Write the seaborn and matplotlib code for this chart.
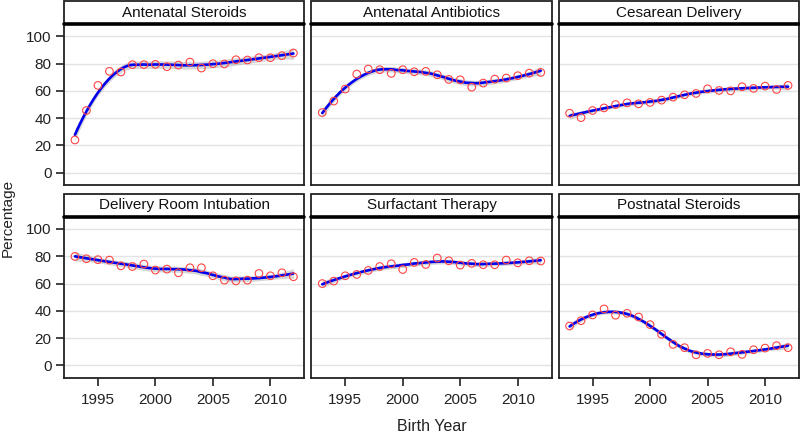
import numpy as np
import pandas as pd
import matplotlib
matplotlib.use("Agg")
import matplotlib.pyplot as plt
from matplotlib.patches import Rectangle
from matplotlib.lines import Line2D
import seaborn as sns

# ---- data ----
years = list(range(1993, 2013))
panels = ["Antenatal Steroids", "Antenatal Antibiotics", "Cesarean Delivery",
          "Delivery Room Intubation", "Surfactant Therapy", "Postnatal Steroids"]
antenatal_steroids = [24.0, 45.6, 64.0, 74.3, 73.8, 79.2, 79.2, 79.4, 77.7, 78.9,
                      81.1, 76.7, 79.9, 79.7, 82.8, 82.6, 84.3, 84.3, 85.8, 87.7]
antenatal_antibiotics = [44.1, 52.5, 61.3, 72.3, 76.0, 75.5, 72.8, 75.5, 74.0, 74.3,
                         71.8, 68.4, 68.1, 62.7, 65.7, 68.6, 69.4, 71.1, 73.0, 73.5]
cesarean_delivery = [43.6, 40.4, 45.6, 47.5, 50.0, 51.2, 50.5, 51.5, 53.2, 55.4,
                     57.1, 58.1, 61.5, 60.3, 60.0, 63.0, 61.8, 63.5, 61.0, 64.0]
dr_intubation = [79.9, 78.2, 77.5, 77.2, 73.0, 72.5, 74.3, 69.9, 70.6, 67.9,
                 71.6, 71.6, 65.7, 62.5, 62.0, 62.5, 67.4, 65.7, 67.9, 65.0]
surfactant = [60.0, 61.8, 65.7, 66.7, 69.6, 72.5, 74.5, 70.3, 75.5, 74.0,
              78.7, 76.7, 73.5, 74.8, 73.8, 73.8, 77.2, 75.2, 76.7, 76.5]
postnatal_steroids = [28.9, 32.8, 37.0, 41.4, 36.8, 38.2, 35.5, 29.9, 22.8, 15.4,
                      13.0, 7.8, 8.8, 7.8, 10.0, 8.1, 11.5, 12.7, 14.5, 13.0]
series = [antenatal_steroids, antenatal_antibiotics, cesarean_delivery,
          dr_intubation, surfactant, postnatal_steroids]
x_ticks = [1995, 2000, 2005, 2010]
y_ticks = [0, 20, 40, 60, 80, 100]

df = pd.DataFrame({
    "Birth Year": np.tile(years, len(panels)),
    "Percentage": np.concatenate(series),
    "Outcome": np.repeat(panels, len(years)),
})


def loess_matrix(x, x0s, span=0.6):
    x = np.asarray(x, float)
    n = len(x)
    q = int(np.floor(n * span))
    L = np.zeros((len(x0s), n))
    for i, x0 in enumerate(x0s):
        d = np.abs(x - x0)
        h = np.sort(d)[q - 1] * 1.0001
        w = np.clip(1 - (d / h) ** 3, 0, None) ** 3
        X = np.vstack([np.ones(n), x - x0, (x - x0) ** 2]).T
        W = np.diag(w)
        A = np.linalg.pinv(X.T @ W @ X) @ X.T @ W
        L[i] = A[0]
    return L


sns.set_style("ticks")
plt.rcParams["font.sans-serif"] = ["Liberation Sans", "DejaVu Sans"]
plt.rcParams["font.family"] = ["Liberation Sans", "DejaVu Sans"]

fig, axes = plt.subplots(2, 3, figsize=(8.0, 4.36), dpi=100, sharex=True, sharey=True)
fig.subplots_adjust(left=64 / 800, right=799 / 800, top=1 - 24 / 436,
                    bottom=1 - 377.7 / 436, wspace=0.029, hspace=0.197)

strip_h = 23.0 / 161.0
for k, (ax, name) in enumerate(zip(axes.flat, panels)):
    sub = df[df["Outcome"] == name]
    x = sub["Birth Year"].to_numpy(float)
    y = sub["Percentage"].to_numpy(float)
    xs = np.linspace(x.min(), x.max(), 80)
    Ls = loess_matrix(x, xs)
    Lx = loess_matrix(x, x)
    fit = Ls @ y
    resid = y - Lx @ y
    IL = np.eye(len(x)) - Lx
    delta1 = np.trace(IL.T @ IL)
    sigma = np.sqrt(np.sum(resid ** 2) / delta1)
    se = sigma * np.sqrt(np.sum(Ls ** 2, axis=1))
    ax.fill_between(xs, fit - 2.1 * se, fit + 2.1 * se, color="#999999", alpha=0.4,
                    linewidth=0, zorder=2)
    sns.lineplot(x=xs, y=fit, ax=ax, color="#0000EE", linewidth=1.9, zorder=3)
    sns.scatterplot(data=sub, x="Birth Year", y="Percentage", ax=ax, marker="o",
                    s=30, facecolor="none", edgecolor="#FF4545", linewidth=0.8, zorder=4)

    ax.set_xlim(1992.05, 2012.95)
    ax.set_ylim(-9, 109)
    ax.set_xticks(x_ticks)
    ax.set_yticks(y_ticks)
    ax.set_xlabel("")
    ax.set_ylabel("")
    ax.yaxis.grid(True, color="#e3e3e3", linewidth=1.0)
    ax.set_axisbelow(True)
    for sp in ax.spines.values():
        sp.set_visible(True)
        sp.set_color("#222222")
        sp.set_linewidth(1.3)
    ax.tick_params(axis="both", colors="#222222", width=1.2, length=6,
                   labelsize=11, labelcolor="#222222")
    ax.tick_params(axis="x", pad=5)
    ax.tick_params(axis="y", pad=3)
    row, col = divmod(k, 3)
    if col != 0:
        ax.tick_params(axis="y", left=False, labelleft=False)
    if row == 0:
        ax.tick_params(axis="x", bottom=False, labelbottom=False)

    # strip
    ax.add_patch(Rectangle((0, 1), 1, strip_h, transform=ax.transAxes, clip_on=False,
                           facecolor="white", edgecolor="#222222", linewidth=1.3, zorder=5))
    ax.add_line(Line2D([0, 1], [1, 1], transform=ax.transAxes, clip_on=False,
                       color="black", linewidth=2.6, zorder=6))
    ax.text(0.5, 1 + strip_h / 2, name, transform=ax.transAxes, ha="center",
            va="center", fontsize=11, color="#111111", zorder=7)

fig.text(431.5 / 800, 1 - 426 / 436, "Birth Year", ha="center", va="center",
         fontsize=11.5, color="#222222")
fig.text(8 / 800, 0.5, "Percentage", ha="center", va="center", rotation=90,
         fontsize=11, color="#222222")

fig.savefig("out.png", dpi=100)
